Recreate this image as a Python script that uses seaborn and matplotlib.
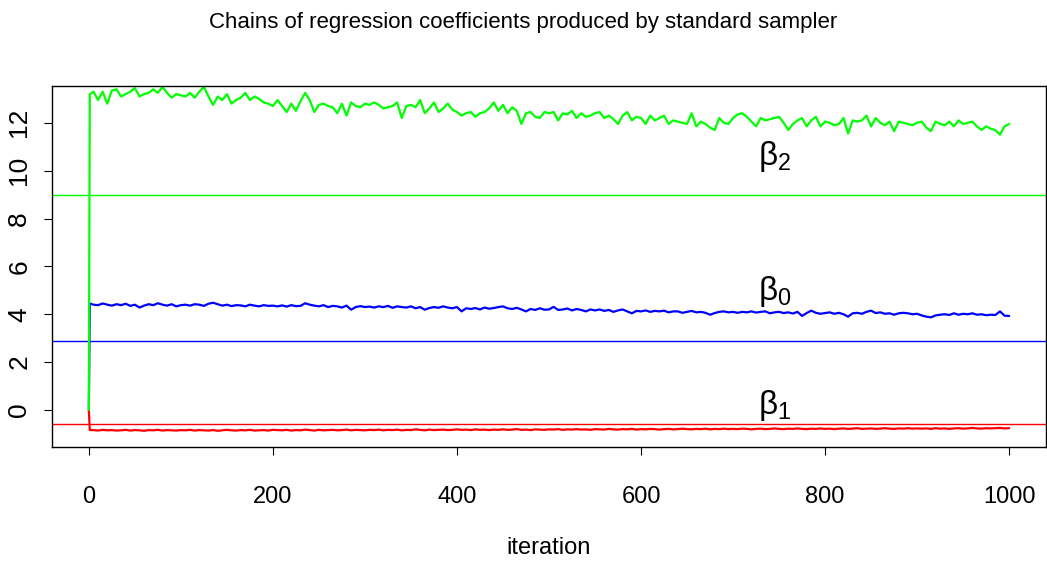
import numpy as np
import pandas as pd
import matplotlib
matplotlib.use("Agg")
import matplotlib.pyplot as plt
import seaborn as sns

# iteration grid: start value, first draw, then every 5th iteration
iterations = [0, 1] + list(range(5, 1001, 5))

# beta_2 chain (green)
beta2 = [0.0, 13.2,
    13.3, 12.95, 13.3, 12.8, 13.35, 13.4, 13.1, 13.2, 13.3, 13.45, 13.1, 13.2, 13.25, 13.4, 13.25, 13.5, 13.25, 13.05, 13.2, 13.15,
    13.1, 13.25, 13.05, 13.3, 13.5, 13.1, 12.75, 13.1, 12.95, 13.2, 12.8, 12.95, 13.05, 13.25, 12.95, 13.1, 13.0, 12.85, 12.8, 12.7,
    12.95, 12.7, 12.45, 12.8, 12.5, 12.9, 13.25, 12.95, 12.45, 12.75, 12.8, 12.7, 12.65, 12.4, 12.8, 12.3, 12.85, 12.7, 12.65, 12.8,
    12.75, 12.85, 12.75, 12.6, 12.65, 12.7, 12.85, 12.2, 12.7, 12.75, 12.65, 12.95, 12.4, 12.6, 12.85, 12.45, 12.6, 12.8, 12.55, 12.45,
    12.3, 12.4, 12.45, 12.25, 12.4, 12.45, 12.6, 12.85, 12.5, 12.75, 12.4, 12.65, 12.5, 11.95, 12.4, 12.45, 12.25, 12.2, 12.45, 12.4,
    12.45, 12.1, 12.4, 12.35, 12.5, 12.2, 12.4, 12.25, 12.3, 12.4, 12.45, 12.2, 12.3, 12.15, 11.95, 12.3, 12.45, 12.1, 12.25, 12.2,
    11.95, 12.3, 12.1, 12.2, 12.3, 11.95, 12.1, 12.05, 12.0, 11.95, 12.4, 11.85, 12.05, 11.95, 11.8, 11.7, 12.2, 12.0, 11.95, 12.2,
    12.35, 12.4, 12.25, 12.05, 11.85, 12.2, 12.1, 12.15, 12.2, 12.25, 12.0, 11.7, 11.95, 12.1, 12.2, 11.85, 12.1, 12.25, 11.85, 12.05,
    12.0, 11.9, 11.95, 12.2, 11.55, 12.1, 12.05, 12.1, 12.3, 11.85, 12.2, 12.0, 11.9, 12.05, 11.65, 12.05, 12.0, 11.95, 11.9, 12.0,
    12.05, 11.8, 11.65, 12.05, 11.95, 11.9, 12.05, 11.85, 12.1, 11.95, 12.0, 12.05, 11.85, 11.7, 11.85, 11.75, 11.7, 11.5, 11.85, 11.95]

# beta_0 chain (blue)
beta0 = [0.0, 4.45,
    4.4, 4.38, 4.45, 4.4, 4.36, 4.42, 4.38, 4.44, 4.35, 4.4, 4.28, 4.36, 4.42, 4.38, 4.46, 4.4, 4.36, 4.42, 4.33, 4.38,
    4.4, 4.36, 4.42, 4.4, 4.35, 4.44, 4.48, 4.42, 4.36, 4.4, 4.34, 4.38, 4.37, 4.33, 4.4, 4.36, 4.33, 4.38, 4.35, 4.36,
    4.33, 4.37, 4.32, 4.38, 4.34, 4.35, 4.46, 4.4, 4.36, 4.33, 4.38, 4.3, 4.35, 4.33, 4.28, 4.36, 4.19, 4.3, 4.34, 4.3,
    4.32, 4.28, 4.33, 4.3, 4.35, 4.27, 4.33, 4.3, 4.28, 4.33, 4.25, 4.3, 4.19, 4.26, 4.3, 4.27, 4.33, 4.28, 4.25, 4.3,
    4.12, 4.25, 4.22, 4.26, 4.2, 4.28, 4.23, 4.26, 4.3, 4.33, 4.25, 4.22, 4.27, 4.2, 4.12, 4.22, 4.18, 4.25, 4.19, 4.2,
    4.31, 4.18, 4.2, 4.24, 4.16, 4.22, 4.18, 4.12, 4.2, 4.16, 4.2, 4.14, 4.18, 4.1, 4.16, 4.2, 4.12, 4.04, 4.14, 4.12,
    4.16, 4.1, 4.14, 4.12, 4.15, 4.08, 4.12, 4.12, 4.06, 4.1, 4.14, 4.08, 4.1, 4.06, 3.98, 4.05, 4.1, 4.12, 4.08, 4.1,
    4.06, 4.1, 4.08, 4.12, 4.07, 4.1, 4.12, 4.04, 4.08, 4.1, 4.05, 4.08, 4.03, 4.1, 3.93, 4.05, 4.15, 4.06, 4.02, 4.05,
    4.08, 4.02, 4.06, 4.0, 3.9, 4.04, 4.06, 4.02, 4.1, 4.15, 4.05, 4.08, 4.02, 4.04, 3.98, 4.04, 4.06, 4.04, 4.0, 4.02,
    3.95, 3.9, 3.87, 3.95, 3.98, 4.0, 3.97, 4.04, 3.98, 4.02, 4.0, 4.04, 3.98, 4.0, 3.96, 3.98, 3.97, 4.12, 3.94, 3.93]

# beta_1 chain (red)
beta1 = [0.0, -0.84,
    -0.84, -0.86, -0.83, -0.85, -0.84, -0.86, -0.85, -0.83, -0.86, -0.84, -0.85, -0.87, -0.84, -0.85, -0.83, -0.86, -0.84, -0.85, -0.86, -0.84,
    -0.85, -0.83, -0.86, -0.84, -0.85, -0.86, -0.84, -0.87, -0.85, -0.83, -0.85, -0.86, -0.84, -0.85, -0.83, -0.86, -0.85, -0.84, -0.86, -0.83,
    -0.84, -0.85, -0.83, -0.86, -0.84, -0.85, -0.82, -0.84, -0.86, -0.83, -0.85, -0.84, -0.83, -0.85, -0.84, -0.82, -0.85, -0.83, -0.84, -0.85,
    -0.83, -0.84, -0.82, -0.85, -0.83, -0.84, -0.82, -0.85, -0.83, -0.84, -0.81, -0.83, -0.85, -0.82, -0.84, -0.83, -0.82, -0.84, -0.83, -0.81,
    -0.83, -0.82, -0.84, -0.81, -0.83, -0.82, -0.84, -0.82, -0.83, -0.81, -0.83, -0.82, -0.8, -0.83, -0.82, -0.84, -0.81, -0.82, -0.83, -0.81,
    -0.82, -0.8, -0.83, -0.81, -0.82, -0.8, -0.82, -0.81, -0.83, -0.8, -0.81, -0.82, -0.79, -0.81, -0.82, -0.8, -0.81, -0.79, -0.82, -0.8,
    -0.81, -0.79, -0.8, -0.82, -0.8, -0.79, -0.81, -0.8, -0.78, -0.8, -0.81, -0.79, -0.8, -0.78, -0.81, -0.79, -0.8, -0.78, -0.8, -0.79,
    -0.8, -0.78, -0.79, -0.81, -0.79, -0.78, -0.8, -0.79, -0.77, -0.79, -0.8, -0.78, -0.79, -0.77, -0.79, -0.8, -0.78, -0.79, -0.77, -0.79,
    -0.78, -0.8, -0.78, -0.77, -0.79, -0.78, -0.76, -0.79, -0.78, -0.77, -0.79, -0.78, -0.76, -0.78, -0.79, -0.77, -0.78, -0.76, -0.78, -0.77,
    -0.78, -0.77, -0.79, -0.76, -0.78, -0.77, -0.79, -0.77, -0.76, -0.78, -0.77, -0.75, -0.77, -0.78, -0.76, -0.77, -0.76, -0.75, -0.77, -0.76]

# true values (horizontal reference lines)
true_values = {'beta0': 2.9, 'beta1': -0.6, 'beta2': 9.0}
colors = {'beta0': '#0000ff', 'beta1': '#ff0000', 'beta2': '#00ff00'}
label_pos = {'beta0': (745, 4.95, r'$\beta_0$'),
             'beta1': (745, 0.2, r'$\beta_1$'),
             'beta2': (745, 10.6, r'$\beta_2$')}

df = pd.DataFrame({
    'iteration': iterations * 3,
    'value': beta0 + beta1 + beta2,
    'param': ['beta0'] * len(iterations) + ['beta1'] * len(iterations) + ['beta2'] * len(iterations),
})

sns.set_style('white')
plt.rcParams['font.family'] = ['Liberation Sans', 'DejaVu Sans']
plt.rcParams['mathtext.fontset'] = 'custom'
plt.rcParams['mathtext.rm'] = 'Liberation Sans'
plt.rcParams['mathtext.it'] = 'Liberation Sans'
plt.rcParams['text.color'] = 'black'

fig = plt.figure(figsize=(10.47, 5.65), dpi=100)
ax = fig.add_axes([0.0497, 0.2083, 0.9493, 0.64])

sns.lineplot(data=df, x='iteration', y='value', hue='param',
             hue_order=['beta0', 'beta1', 'beta2'], palette=colors,
             estimator=None, sort=False, legend=False, linewidth=1.6, ax=ax)

for p, v in true_values.items():
    ax.axhline(v, color=colors[p], linewidth=1.0, zorder=1)

for p, (x, y, txt) in label_pos.items():
    ax.text(x, y, txt, fontsize=24, ha='center', va='center', color='black')

ax.set_xlim(-40, 1040)
ax.set_ylim(-1.56, 13.55)
ax.set_xticks([0, 200, 400, 600, 800, 1000])
ax.set_yticks([0, 2, 4, 6, 8, 10, 12])
ax.tick_params(axis='both', direction='out', length=6, width=0.8, colors='black',
               labelcolor='black', left=True, bottom=True)
ax.tick_params(axis='x', pad=22, labelsize=17)
ax.tick_params(axis='y', pad=9, labelsize=19)
for lab in ax.get_yticklabels():
    lab.set_rotation(90)
    lab.set_va('center')

for s in ax.spines.values():
    s.set_color('black')
    s.set_linewidth(1.0)

ax.set_xlabel('iteration', fontsize=17, labelpad=21, color='black')
ax.set_ylabel('')
fig.suptitle('Chains of regression coefficients produced by standard sampler',
             fontsize=16, y=0.978, color='black')

fig.savefig('out.png', dpi=100)
